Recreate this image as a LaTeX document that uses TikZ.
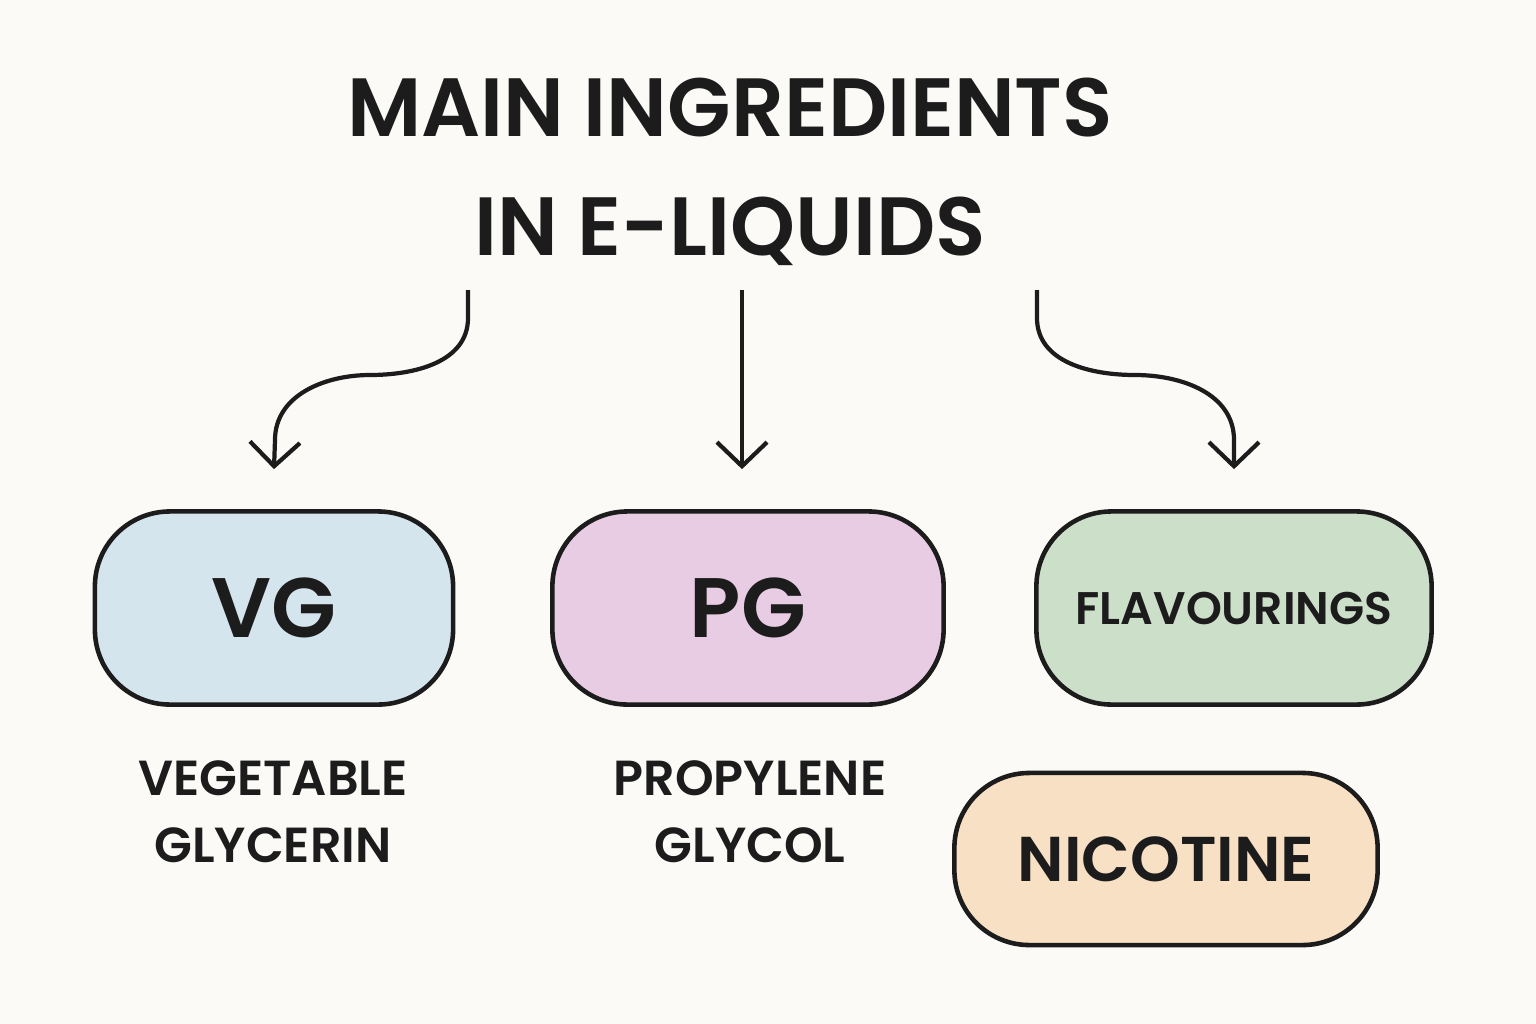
\documentclass[tikz,border=0pt]{standalone}
\usepackage{fontspec}
\setmainfont{Poppins}[UprightFont=* SemiBold,BoldFont=* Bold]
\usetikzlibrary{arrows.meta, positioning}
\definecolor{bg}{HTML}{FBFAF6}
\definecolor{ink}{HTML}{1C1C1C}
\definecolor{vgfill}{HTML}{D4E5EE}
\definecolor{pgfill}{HTML}{E8CCE4}
\definecolor{flfill}{HTML}{CCDFC9}
\definecolor{nifill}{HTML}{F8E0C4}
\begin{document}
\begin{tikzpicture}[
        x=0.01cm, y=-0.01cm,
        pill/.style={rectangle, rounded corners=0.75cm, draw=ink, line width=1.3pt, text=ink},
        lbl/.style={text=ink, font=\fontsize{14}{19}\selectfont, align=center},
        link/.style={draw=ink, line width=1.2pt, -{Straight Barb[length=2.4mm,width=5mm,line width=1.2pt]}}
    ]
    \fill[bg] (0,0) rectangle (1536,1024);

    % Title
    \node[text=ink, font=\fontsize{23.5}{34}\selectfont, align=center] (title) at (730,172)
        {MAIN INGREDIENTS\\IN E-LIQUIDS};

    % Ingredients
    \node[pill, fill=vgfill, minimum width=3.58cm, minimum height=1.93cm,
        font=\fontsize{24}{28}\selectfont] (vg) at (274,608) {VG};
    \node[pill, fill=pgfill, minimum width=3.91cm, minimum height=1.93cm,
        font=\fontsize{24}{28}\selectfont] (pg) at (748,608) {PG};
    \node[pill, fill=flfill, minimum width=3.95cm, minimum height=1.93cm,
        font=\fontsize{13}{18}\selectfont] (fl) at (1234,608) {FLAVOURINGS};
    \node[pill, fill=nifill, minimum width=4.23cm, minimum height=1.72cm,
        font=\fontsize{18}{24}\selectfont] (nic) at (1166,859) {NICOTINE};

    % Labels
    \node[lbl] (vgname) at (273,812) {VEGETABLE\\GLYCERIN};
    \node[lbl] (pgname) at (750,812) {PROPYLENE\\GLYCOL};

    % Connections
    \coordinate (a1) at (468,290);
    \coordinate (a2) at (742,290);
    \coordinate (a3) at (1037,290);
    \draw[link] (a1) -- (468,318) to[out=-90,in=0] (370,375) to[out=180,in=90] (275,440) -- ([yshift=0.4cm]vg.north);
    \draw[link] (a2) -- ([yshift=0.4cm]pg.north -| a2);
    \draw[link] (a3) -- (1037,318) to[out=-90,in=180] (1135,375) to[out=0,in=90] (1234,440) -- ([yshift=0.4cm]fl.north);
\end{tikzpicture}
\end{document}
